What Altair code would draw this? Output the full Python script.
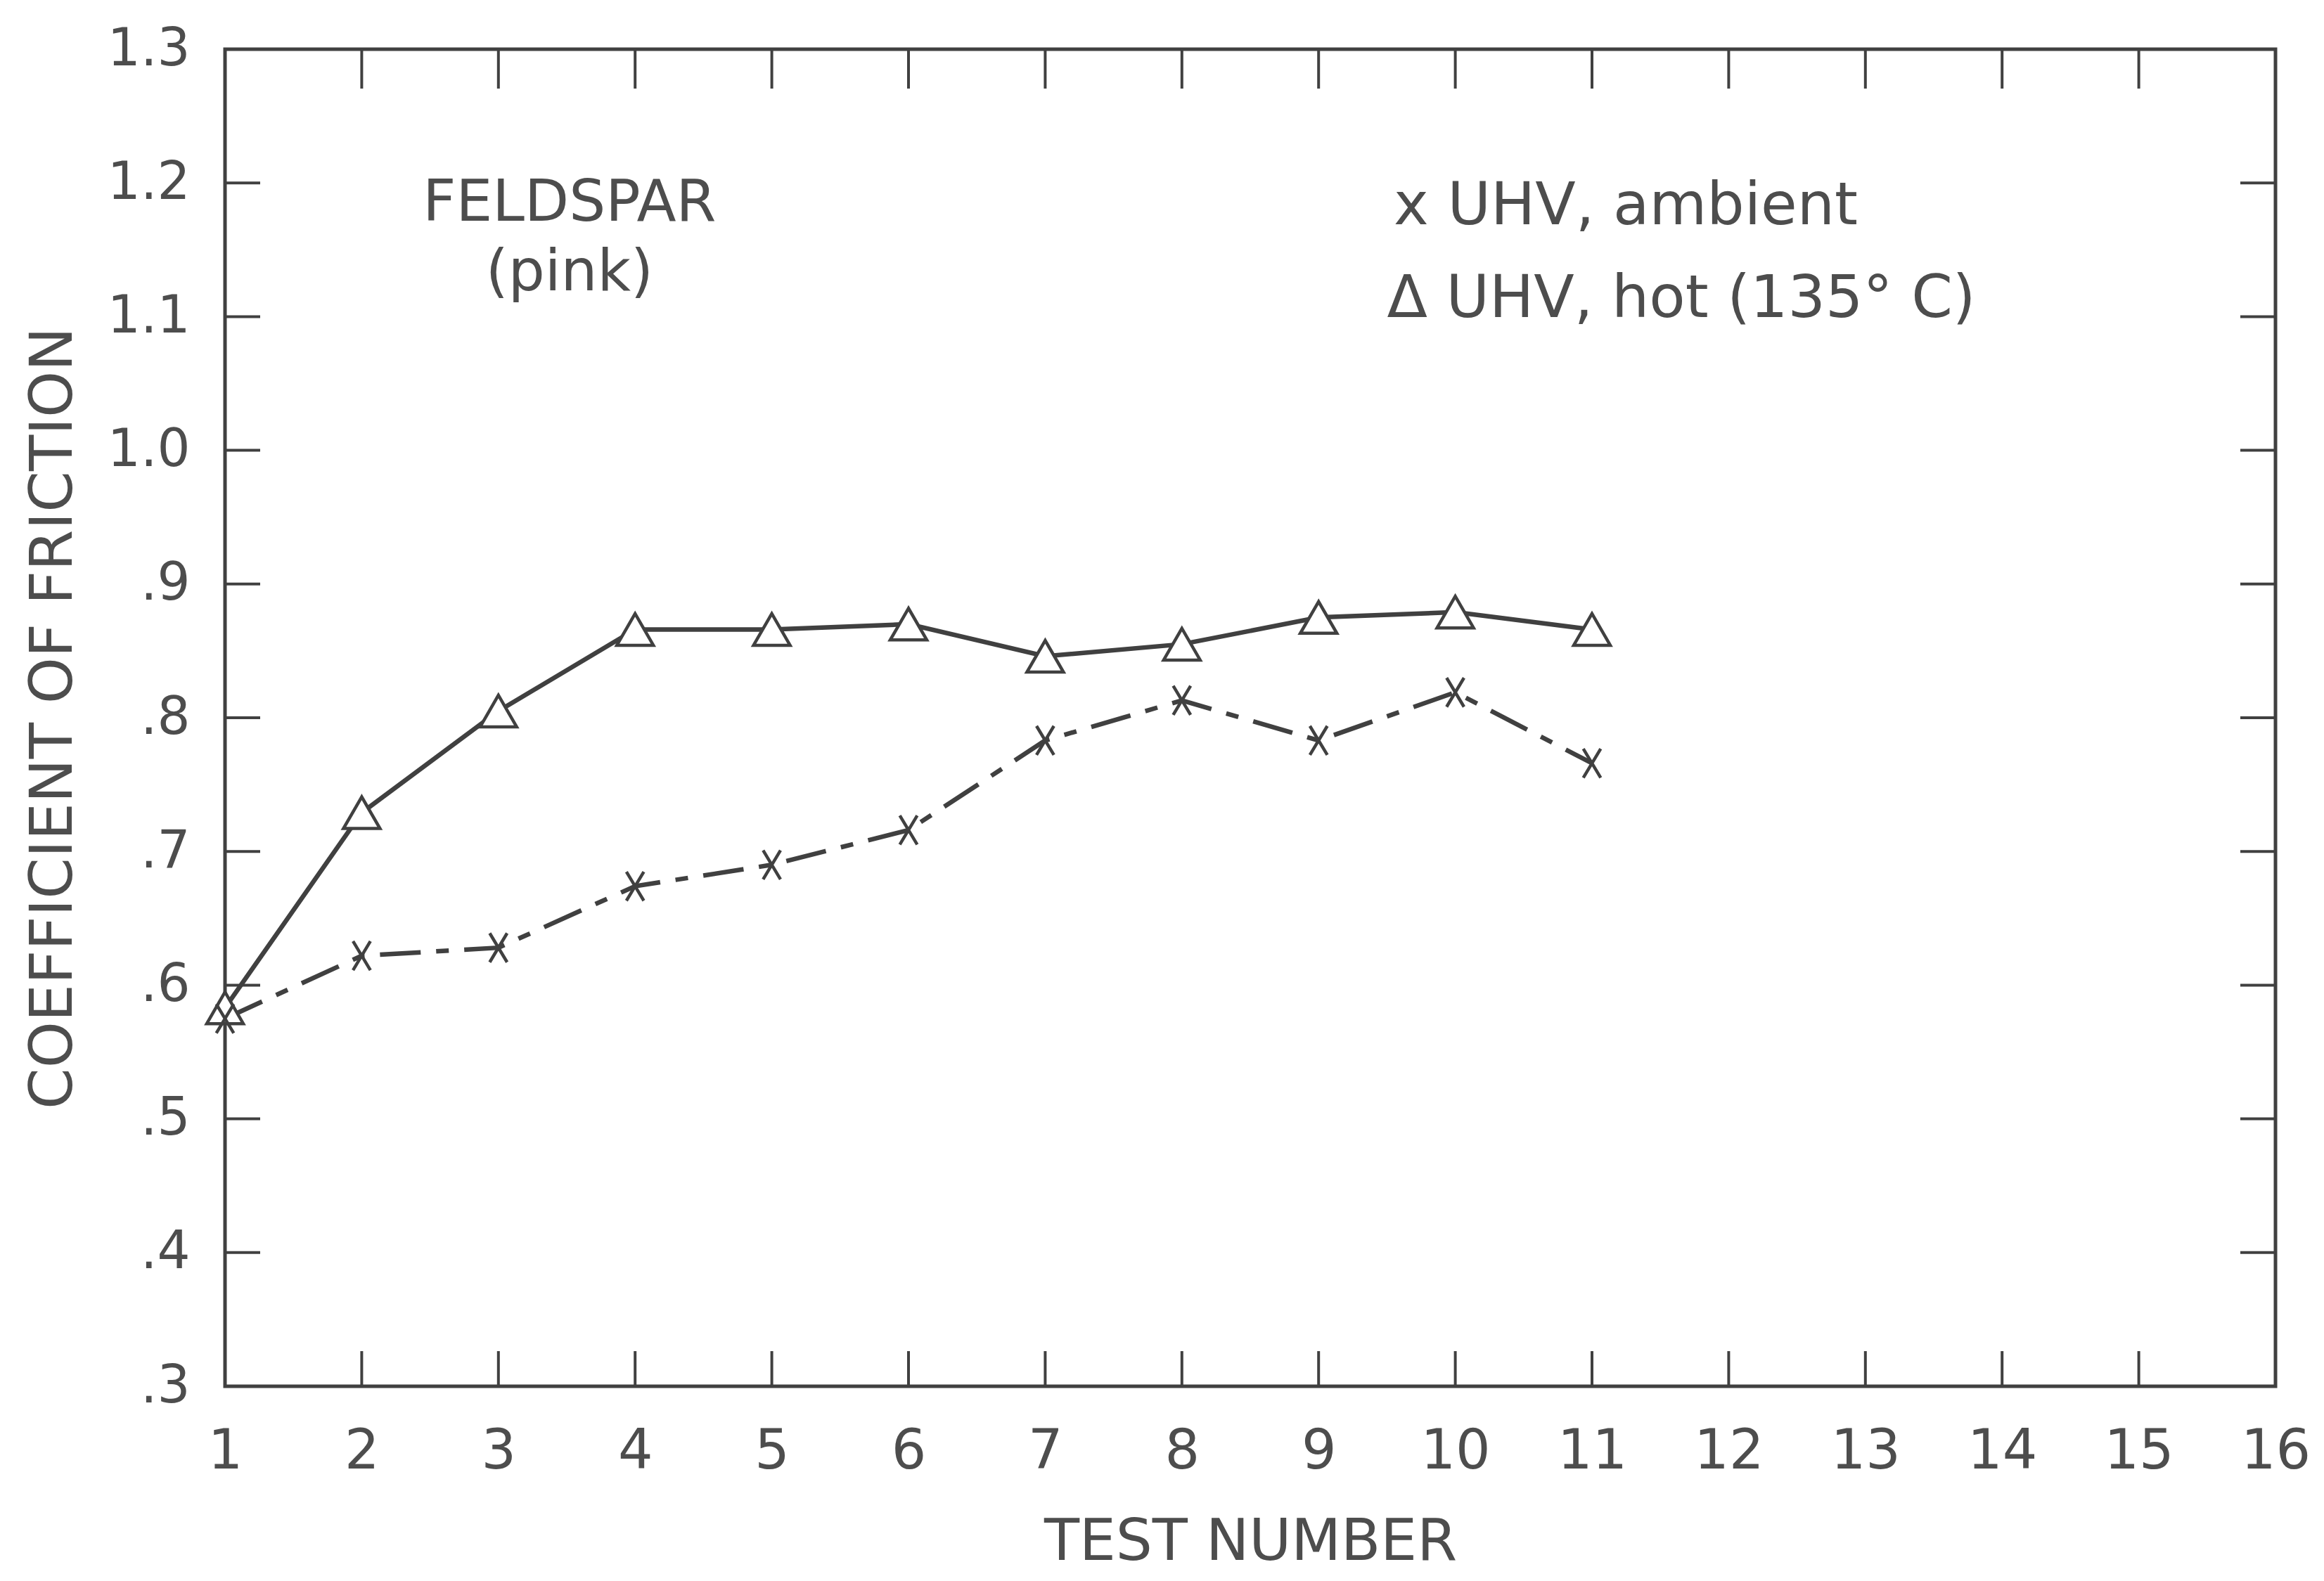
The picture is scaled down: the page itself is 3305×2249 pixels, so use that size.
import altair as alt
import pandas as pd

# ---- data ----
tests = [1, 2, 3, 4, 5, 6, 7, 8, 9, 10, 11]
ambient = [0.575, 0.622, 0.628, 0.674, 0.690, 0.716, 0.783, 0.813, 0.783, 0.819, 0.766]
hot = [0.583, 0.729, 0.805, 0.866, 0.866, 0.870, 0.846, 0.855, 0.875, 0.879, 0.866]

x_tick_values = list(range(1, 17))
y_tick_values = [0.3, 0.4, 0.5, 0.6, 0.7, 0.8, 0.9, 1.0, 1.1, 1.2, 1.3]
inner_x_ticks = list(range(2, 16))
inner_y_ticks = [0.4, 0.5, 0.6, 0.7, 0.8, 0.9, 1.0, 1.1, 1.2]

title_texts = ["FELDSPAR", "(pink)"]
title_x = [3.52, 3.52]
title_y = [1.185, 1.133]

legend_texts = ["x UHV, ambient", "\u0394 UHV, hot (135\u00b0 C)"]
legend_x = [9.55, 9.5]
legend_y = [1.182, 1.113]

# ---- layout ----
W, H = 2916, 1902
TICK = 50
INK = "#404040"
TEXT = "#4d4d4d"
FONT = "DejaVu Sans"

amb_df = pd.DataFrame({"test": tests, "mu": ambient})
hot_df = pd.DataFrame({"test": tests, "mu": hot})
xt_df = pd.DataFrame({"v": inner_x_ticks})
yt_df = pd.DataFrame({"v": inner_y_ticks})
title_df = pd.DataFrame({"x": title_x, "y": title_y, "t": title_texts})
legend_df = pd.DataFrame({"x": legend_x, "y": legend_y, "t": legend_texts})

xscale = alt.Scale(domain=[1, 16], nice=False, zero=False)
yscale = alt.Scale(domain=[0.3, 1.3], nice=False, zero=False)

xaxis = alt.Axis(
    values=x_tick_values, domain=False, ticks=False, tickSize=0, grid=False,
    labelFontSize=78, labelFont=FONT, labelColor=TEXT, labelPadding=54,
    labelFlush=False, labelOverlap=False, format="d",
    title="TEST NUMBER", titleFontSize=82, titleFont=FONT, titleColor=TEXT,
    titleFontWeight="normal", titleY=221, titleBaseline="middle",
)
yaxis = alt.Axis(
    values=y_tick_values, domain=False, ticks=False, tickSize=0, grid=False,
    labelFontSize=74, labelFont=FONT, labelColor=TEXT, labelPadding=50,
    labelFlush=False, labelOverlap=False,
    labelExpr="datum.value >= 1 ? format(datum.value, '.1f') : replace(format(datum.value, '.1f'), '0.', '.')",
    title="COEFFICIENT OF FRICTION", titleFontSize=84, titleFont=FONT, titleColor=TEXT,
    titleFontWeight="normal", titleAngle=270, titleX=-244, titleY=H / 2,
    titleBaseline="middle", titleAlign="center",
)

base_x = alt.X("test:Q", scale=xscale, axis=xaxis)
base_y = alt.Y("mu:Q", scale=yscale, axis=yaxis)
px = alt.X("test:Q", scale=xscale)
py = alt.Y("mu:Q", scale=yscale)

hot_line = alt.Chart(hot_df).mark_line(color=INK, strokeWidth=6.5).encode(x=base_x, y=base_y)
amb_line = alt.Chart(amb_df).mark_line(
    color=INK, strokeWidth=6.5, strokeDash=[58, 22, 18, 22]
).encode(x=px, y=py)

hot_pts = alt.Chart(hot_df).mark_point(
    shape="triangle-up", size=2700, filled=True, fill="white", stroke=INK, strokeWidth=4.5, opacity=1
).encode(x=px, y=py)

amb_pts = alt.Chart(amb_df).mark_point(
    shape="M-0.6,-1L0.6,1M-0.6,1L0.6,-1", size=1700, stroke=INK, strokeWidth=4.5, opacity=1
).encode(x=px, y=py)

# inward tick marks on all four sides
bottom_ticks = alt.Chart(xt_df).mark_rule(color=INK, strokeWidth=4).encode(
    x=alt.X("v:Q", scale=xscale), y=alt.value(H), y2=alt.value(H - TICK))
top_ticks = alt.Chart(xt_df).mark_rule(color=INK, strokeWidth=4).encode(
    x=alt.X("v:Q", scale=xscale), y=alt.value(0), y2=alt.value(TICK + 6))
left_ticks = alt.Chart(yt_df).mark_rule(color=INK, strokeWidth=4).encode(
    y=alt.Y("v:Q", scale=yscale), x=alt.value(0), x2=alt.value(TICK))
right_ticks = alt.Chart(yt_df).mark_rule(color=INK, strokeWidth=4).encode(
    y=alt.Y("v:Q", scale=yscale), x=alt.value(W), x2=alt.value(W - TICK))

title_txt = alt.Chart(title_df).mark_text(
    font=FONT, fontSize=82, color=TEXT, align="center", baseline="middle"
).encode(x=alt.X("x:Q", scale=xscale), y=alt.Y("y:Q", scale=yscale), text="t:N")

legend_txt = alt.Chart(legend_df).mark_text(
    font=FONT, fontSize=84, color=TEXT, align="left", baseline="middle"
).encode(x=alt.X("x:Q", scale=xscale), y=alt.Y("y:Q", scale=yscale), text="t:N")

chart = alt.layer(
    hot_line, amb_line, hot_pts, amb_pts,
    bottom_ticks, top_ticks, left_ticks, right_ticks,
    title_txt, legend_txt,
).properties(
    width=W, height=H,
    autosize=alt.AutoSizeParams(type="none"),
    padding={"left": 312, "top": 62, "right": 50, "bottom": 268},
    background="white",
).configure_view(stroke=INK, strokeWidth=5)

chart.save("out.html", embed_options={"renderer": "svg", "actions": False})
